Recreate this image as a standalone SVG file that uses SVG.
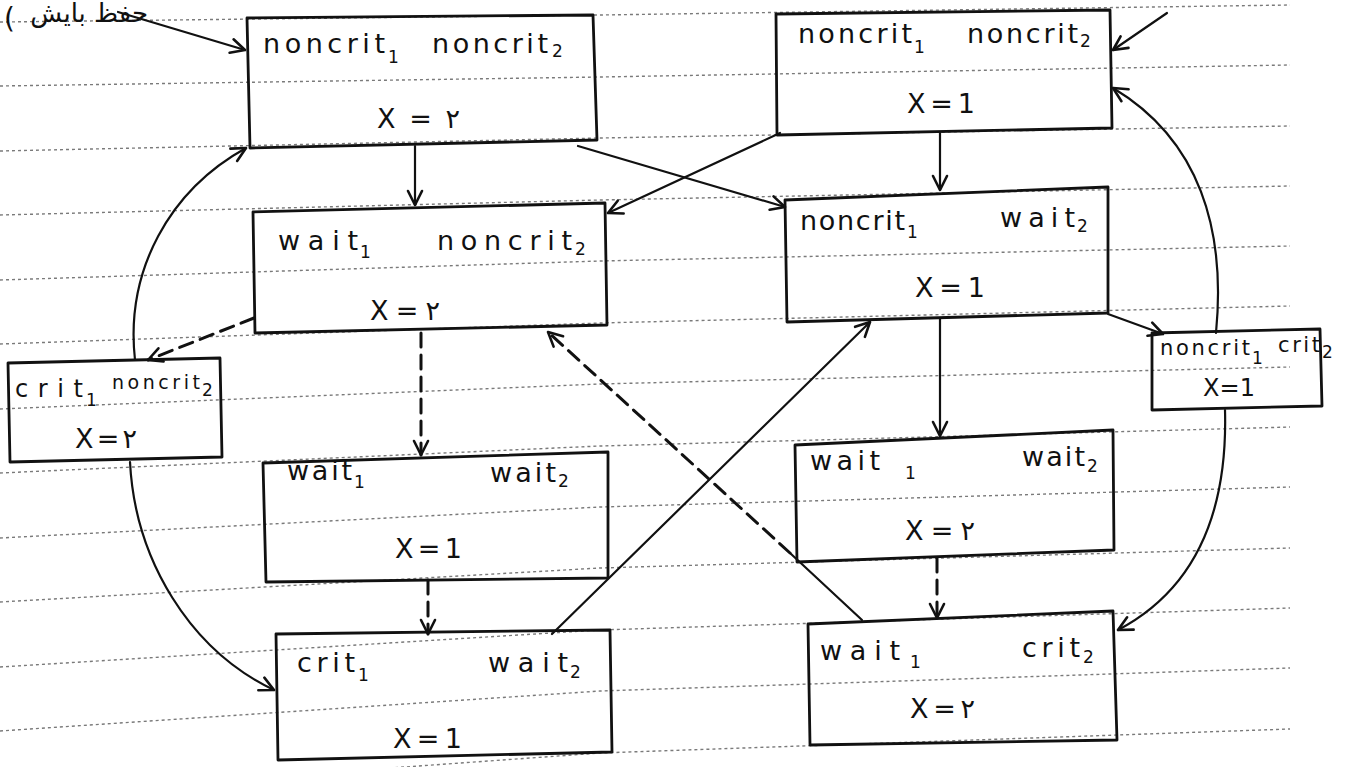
<svg xmlns="http://www.w3.org/2000/svg" width="1352" height="767" viewBox="0 0 1352 767">
<style>
  .rule { fill: none; stroke: #7a7a7a; stroke-width: 1.4; stroke-dasharray: 3 3; }
  .box { fill: none; stroke: #111; stroke-width: 2.8; stroke-linejoin: round; }
  .lbl { font-family: "DejaVu Sans", sans-serif; font-size: 27px; fill: #111; }
  .sub { font-family: "DejaVu Sans", sans-serif; font-size: 17px; fill: #111; }
  .eq { font-family: "DejaVu Sans", sans-serif; font-size: 27px; fill: #111; }
  .edge { fill: none; stroke: #111; stroke-width: 2.2; stroke-linecap: round; marker-end: url(#head); }
  .dash { stroke-width: 3; stroke-dasharray: 14 8; }
  .plain { fill: none; stroke: #111; stroke-width: 2.2; stroke-linecap: round; }
</style>
<defs>
  <marker id="head" viewBox="0 0 18 18" refX="16" refY="9" markerWidth="18" markerHeight="18" markerUnits="userSpaceOnUse" orient="auto">
    <path d="M2,2 L16,9 L2,16" fill="none" stroke="#111" stroke-width="2.6" stroke-linecap="round" stroke-linejoin="round"/>
  </marker>
</defs>
<rect width="1352" height="767" fill="#fff"/>

<!-- ruled notebook lines -->
<g id="ruling">
  <polyline class="rule" points="0,22 600,15 1290,5"/>
  <polyline class="rule" points="0,86 600,77 1290,65"/>
  <polyline class="rule" points="0,151 600,138 1290,126"/>
  <polyline class="rule" points="0,215 600,200 1290,186"/>
  <polyline class="rule" points="0,280 600,261 1290,246"/>
  <polyline class="rule" points="0,344 600,323 1290,306"/>
  <polyline class="rule" points="0,409 600,384 1290,367"/>
  <polyline class="rule" points="0,473 600,446 1290,427"/>
  <polyline class="rule" points="0,538 600,507 1290,487"/>
  <polyline class="rule" points="0,602 600,568 1290,548"/>
  <polyline class="rule" points="0,667 600,630 1290,608"/>
  <polyline class="rule" points="0,731 600,691 1290,668"/>
  <polyline class="rule" points="0,796 600,753 1290,729"/>
</g>

<!-- margin note -->
<g id="note">
  <text x="4" y="28" direction="ltr" unicode-bidi="bidi-override" style="font-family:'DejaVu Sans',sans-serif;font-size:28px;fill:#111">(</text>
  <text x="148" y="22" text-anchor="end" style="font-family:'DejaVu Sans',sans-serif;font-size:26px;fill:#111">حفظ بایش</text>
</g>

<!-- transitions -->
<g id="connectors">
  <path class="edge" d="M118,12 L245,50"/>
  <path class="edge" d="M1167,13 L1113,50"/>
  <path class="edge" d="M415,146 L415,205"/>
  <path class="edge" d="M578,146 L785,207"/>
  <path class="edge" d="M780,133 L608,213"/>
  <path class="edge" d="M940,133 L940,190"/>
  <path class="edge" d="M1108,314 L1163,334"/>
  <path class="edge" d="M1216,333 C1226,230 1200,140 1113,88"/>
  <path class="edge" d="M940,318 L940,436"/>
  <path class="edge" d="M1225,410 C1228,520 1190,592 1118,630"/>
  <path class="edge dash" d="M937,558 L937,618"/>
  <path class="plain" d="M862,620 L790,553"/>
  <path class="edge dash" d="M790,553 L548,332"/>
  <path class="edge" d="M552,634 L870,322"/>
  <path class="edge dash" d="M421,333 L421,455"/>
  <path class="edge dash" d="M428,580 L428,634"/>
  <path class="edge dash" d="M254,318 L148,360"/>
  <path class="edge" d="M135,360 C125,270 170,190 246,148"/>
  <path class="edge" d="M130,462 C135,560 190,650 274,690"/>
</g>

<g id="s-nn-2">
  <path class="box" d="M247,18 L593,15 L597,140 L250,148 Z"/>
  <text class="lbl" x="263" y="53" textLength="122" lengthAdjust="spacing">noncrit</text>
  <text class="sub" x="388" y="63">1</text>
  <text class="lbl" x="432" y="53" textLength="116" lengthAdjust="spacing">noncrit</text>
  <text class="sub" x="552" y="57">2</text>
  <text class="eq" x="377" y="128" textLength="83" lengthAdjust="spacing">X = ۲</text>
</g>

<g id="s-nn-1">
  <path class="box" d="M776,14 L1110,10 L1112,128 L777,135 Z"/>
  <text class="lbl" x="798" y="43" textLength="114" lengthAdjust="spacing">noncrit</text>
  <text class="sub" x="914" y="53">1</text>
  <text class="lbl" x="967" y="43" textLength="111" lengthAdjust="spacing">noncrit</text>
  <text class="sub" x="1080" y="47">2</text>
  <text class="eq" x="907" y="113" textLength="68" lengthAdjust="spacing">X = 1</text>
</g>

<g id="s-wn-2">
  <path class="box" d="M253,212 L605,203 L607,325 L255,333 Z"/>
  <text class="lbl" x="278" y="250" textLength="80" lengthAdjust="spacing">wait</text>
  <text class="sub" x="360" y="258">1</text>
  <text class="lbl" x="437" y="250" textLength="135" lengthAdjust="spacing">noncrit</text>
  <text class="sub" x="575" y="255">2</text>
  <text class="eq" x="370" y="320" textLength="70" lengthAdjust="spacing">X = ۲</text>
</g>

<g id="s-nw-1">
  <path class="box" d="M785,200 L1108,187 L1108,313 L787,322 Z"/>
  <text class="lbl" x="800" y="230" textLength="105" lengthAdjust="spacing">noncrit</text>
  <text class="sub" x="907" y="238">1</text>
  <text class="lbl" x="1000" y="227" textLength="75" lengthAdjust="spacing">wait</text>
  <text class="sub" x="1077" y="232">2</text>
  <text class="eq" x="915" y="297" textLength="70" lengthAdjust="spacing">X = 1</text>
</g>

<g id="s-cn-2">
  <path class="box" d="M8,363 L220,358 L222,457 L10,462 Z"/>
  <text class="lbl" x="15" y="397" style="font-size:24px" textLength="68" lengthAdjust="spacing">crit</text>
  <text class="sub" x="86" y="406">1</text>
  <text class="lbl" x="112" y="389" style="font-size:19px" textLength="88" lengthAdjust="spacing">noncrit</text>
  <text class="sub" x="202" y="396">2</text>
  <text class="eq" x="75" y="448" textLength="62" lengthAdjust="spacing">X = ۲</text>
</g>

<g id="s-nc-1">
  <path class="box" d="M1152,333 L1320,329 L1322,406 L1152,410 Z"/>
  <text class="lbl" x="1160" y="355" style="font-size:21px" textLength="90" lengthAdjust="spacing">noncrit</text>
  <text class="sub" x="1252" y="364">1</text>
  <text class="lbl" x="1278" y="352" style="font-size:21px" textLength="42" lengthAdjust="spacing">crit</text>
  <text class="sub" x="1322" y="358">2</text>
  <text class="eq" x="1203" y="396" style="font-size:24px" textLength="52" lengthAdjust="spacing">X = 1</text>
</g>

<g id="s-ww-1">
  <path class="box" d="M263,463 L608,452 L608,578 L266,582 Z"/>
  <text class="lbl" x="287" y="480" textLength="65" lengthAdjust="spacing">wait</text>
  <text class="sub" x="354" y="488">1</text>
  <text class="lbl" x="490" y="482" textLength="66" lengthAdjust="spacing">wait</text>
  <text class="sub" x="558" y="487">2</text>
  <text class="eq" x="395" y="558" textLength="67" lengthAdjust="spacing">X = 1</text>
</g>

<g id="s-ww-2">
  <path class="box" d="M795,445 L1113,430 L1114,550 L797,562 Z"/>
  <text class="lbl" x="810" y="470" textLength="70" lengthAdjust="spacing">wait</text>
  <text class="sub" x="905" y="479">1</text>
  <text class="lbl" x="1022" y="466" textLength="63" lengthAdjust="spacing">wait</text>
  <text class="sub" x="1087" y="472">2</text>
  <text class="eq" x="905" y="540" textLength="70" lengthAdjust="spacing">X = ۲</text>
</g>

<g id="s-cw-1">
  <path class="box" d="M276,634 L610,630 L612,752 L278,760 Z"/>
  <text class="lbl" x="297" y="672" textLength="58" lengthAdjust="spacing">crit</text>
  <text class="sub" x="358" y="681">1</text>
  <text class="lbl" x="488" y="672" textLength="80" lengthAdjust="spacing">wait</text>
  <text class="sub" x="570" y="678">2</text>
  <text class="eq" x="393" y="748" textLength="69" lengthAdjust="spacing">X = 1</text>
</g>

<g id="s-wc-2">
  <path class="box" d="M808,624 L1113,611 L1117,740 L810,745 Z"/>
  <text class="lbl" x="820" y="660" textLength="80" lengthAdjust="spacing">wait</text>
  <text class="sub" x="910" y="668">1</text>
  <text class="lbl" x="1022" y="657" textLength="58" lengthAdjust="spacing">crit</text>
  <text class="sub" x="1083" y="663">2</text>
  <text class="eq" x="910" y="718" textLength="65" lengthAdjust="spacing">X = ۲</text>
</g>
</svg>
